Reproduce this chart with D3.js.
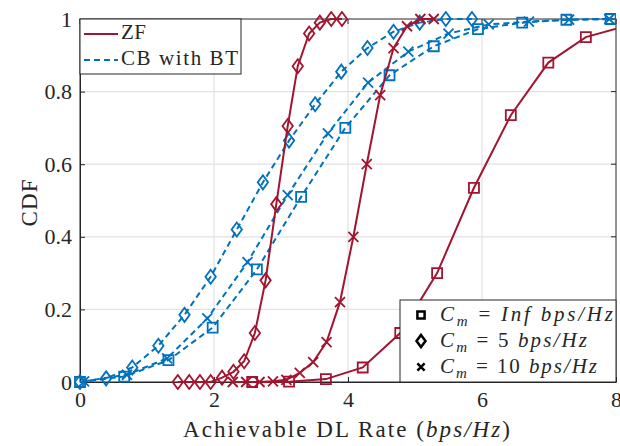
<!DOCTYPE html>
<html><head><meta charset="utf-8">
<script src="https://cdn.jsdelivr.net/npm/d3@7"></script>
<style>body{margin:0;background:#fff}svg{display:block}text{font-family:"Liberation Serif","DejaVu Serif",serif;fill:#262626}</style>
</head><body><svg id="c" width="620" height="446"></svg>
<script>
const xTicks=[0,2,4,6,8];
const yTicks=[0,0.2,0.4,0.6,0.8,1];
const yTickLabels=["0","0.2","0.4","0.6","0.8","1"];
// ZF (red, solid)
const zfInfX=[2.57,3.12,3.67,4.22,4.78,5.33,5.88,6.43,6.99,7.55,8.1];
const zfInfY=[0,0.001,0.008,0.04,0.135,0.30,0.535,0.735,0.88,0.95,0.978];
const zf5X=[1.46,1.63,1.79,1.95,2.12,2.29,2.45,2.61,2.77,2.93,3.1,3.25,3.42,3.58,3.75,3.91];
const zf5Y=[0,0,0,0,0.012,0.028,0.057,0.135,0.28,0.49,0.705,0.87,0.96,0.99,1,1];
const zf10X=[2.28,2.48,2.68,2.88,3.08,3.28,3.48,3.68,3.88,4.08,4.28,4.48,4.68,4.88,5.08,5.28];
const zf10Y=[0,0,0,0.002,0.006,0.025,0.055,0.11,0.22,0.40,0.60,0.79,0.92,0.98,1,1];
// CB with BT (blue, dashed)
const cbInfX=[0,0.66,1.32,1.98,2.64,3.3,3.96,4.62,5.28,5.94,6.6,7.26,7.92];
const cbInfY=[0,0.015,0.06,0.15,0.31,0.51,0.70,0.845,0.925,0.972,0.99,0.998,1];
const cb5X=[0,0.39,0.78,1.17,1.56,1.95,2.34,2.73,3.12,3.51,3.9,4.29,4.68,5.07,5.46,5.85];
const cb5Y=[0,0.01,0.04,0.10,0.185,0.29,0.42,0.55,0.665,0.765,0.855,0.92,0.965,0.99,1,1];
const cb10X=[0.06,0.7,1.3,1.9,2.5,3.1,3.7,4.3,4.9,5.5,6.1,6.7,7.3,7.9];
const cb10Y=[0.002,0.02,0.065,0.175,0.33,0.515,0.685,0.825,0.91,0.96,0.985,0.993,0.998,1];
const legend1Labels=["ZF","CB with BT"];
const legend2Values=["Inf","5","10"];

const RED="#A2142F", BLUE="#0072BD";
const FONT='"Liberation Serif","DejaVu Serif",serif';
const svg=d3.select("#c");
const L=80,R=616,T=19,B=382;
const x=d3.scaleLinear().domain([0,8]).range([L,R]);
const y=d3.scaleLinear().domain([0,1]).range([B,T]);

// grid
svg.append("g").selectAll("line").data(xTicks.slice(1,-1)).join("line")
 .attr("x1",d=>x(d)).attr("x2",d=>x(d)).attr("y1",T).attr("y2",B)
 .attr("stroke","#e2e2e2").attr("stroke-width",1.2);
svg.append("g").selectAll("line").data(yTicks.slice(1,-1)).join("line")
 .attr("y1",d=>y(d)).attr("y2",d=>y(d)).attr("x1",L).attr("x2",R)
 .attr("stroke","#e2e2e2").attr("stroke-width",1.2);

// axes
const xa=svg.append("g").attr("transform",`translate(0,${B})`)
 .call(d3.axisBottom(x).tickValues(xTicks).tickSizeInner(-5).tickSizeOuter(0).tickPadding(9));
const ya=svg.append("g").attr("transform",`translate(${L},0)`)
 .call(d3.axisLeft(y).tickValues(yTicks).tickFormat((d,i)=>yTickLabels[i]).tickSizeInner(-5).tickSizeOuter(0).tickPadding(8));
[xa,ya].forEach(a=>{a.selectAll("path").attr("stroke","#262626").attr("stroke-width",1);
 a.selectAll("line").attr("stroke","#262626");
 a.selectAll("text").style("font-family",FONT).style("font-size","22px").attr("fill","#262626");});
// right ticks & top ticks
svg.append("g").selectAll("line").data(yTicks).join("line").attr("x1",R).attr("x2",R-5).attr("y1",d=>y(d)).attr("y2",d=>y(d)).attr("stroke","#262626");
svg.append("g").selectAll("line").data(xTicks).join("line").attr("y1",T).attr("y2",T+5).attr("x1",d=>x(d)).attr("x2",d=>x(d)).attr("stroke","#262626");
svg.append("rect").attr("x",L).attr("y",T).attr("width",R-L).attr("height",B-T).attr("fill","none").attr("stroke","#262626").attr("stroke-width",1);

// clip
svg.append("clipPath").attr("id","cp").append("rect").attr("x",L-8).attr("y",T-8).attr("width",R-L+8).attr("height",B-T+16);
const plot=svg.append("g").attr("clip-path","url(#cp)");

const line=d3.line().x(d=>x(d[0])).y(d=>y(d[1]));
const mk={
 sq:(s)=>`M${-s},${-s}H${s}V${s}H${-s}Z`,
 di:(s)=>`M0,${-s*1.35}L${s},0L0,${s*1.35}L${-s},0Z`,
 x:(s)=>`M${-s},${-s}L${s},${s}M${-s},${s}L${s},${-s}`
};
const series=[
 {xs:cbInfX,ys:cbInfY,c:BLUE,dash:"6,4",m:"sq",s:5},
 {xs:cb5X,ys:cb5Y,c:BLUE,dash:"6,4",m:"di",s:5.2},
 {xs:cb10X,ys:cb10Y,c:BLUE,dash:"6,4",m:"x",s:5},
 {xs:zfInfX,ys:zfInfY,c:RED,dash:null,m:"sq",s:5},
 {xs:zf5X,ys:zf5Y,c:RED,dash:null,m:"di",s:5.2},
 {xs:zf10X,ys:zf10Y,c:RED,dash:null,m:"x",s:5}
];
series.forEach(S=>{
 const pts=S.xs.map((v,i)=>[v,S.ys[i]]);
 plot.append("path").datum(pts).attr("d",line).attr("fill","none").attr("stroke",S.c)
  .attr("stroke-width",2).attr("stroke-dasharray",S.dash);
 plot.append("g").selectAll("path").data(pts).join("path")
  .attr("transform",d=>`translate(${x(d[0])},${y(d[1])})`)
  .attr("d",mk[S.m](S.s)).attr("fill","none").attr("stroke",S.c).attr("stroke-width",1.8);
});

// labels
svg.append("text").attr("x",346.5).attr("y",437).attr("text-anchor","middle").style("font-size","23px")
 .attr("textLength",327).attr("lengthAdjust","spacing")
 .call(t=>{t.append("tspan").text("Achievable DL Rate (");t.append("tspan").attr("font-style","italic").text("bps/Hz");t.append("tspan").text(")");});
svg.append("text").attr("transform","translate(37,203) rotate(-90)").attr("text-anchor","middle").style("font-size","23px")
 .attr("textLength",47).attr("lengthAdjust","spacing").text("CDF");

// legend 1
const lg1=svg.append("g");
lg1.append("rect").attr("x",L).attr("y",T).attr("width",161).attr("height",55).attr("fill","#fff").attr("stroke","#262626");
const lg1Len=[25,117];
legend1Labels.forEach((lab,i)=>{
 const yy=34+i*26;
 lg1.append("line").attr("x1",84).attr("x2",118).attr("y1",yy).attr("y2",yy).attr("stroke",i?BLUE:RED).attr("stroke-width",2).attr("stroke-dasharray",i?"6,4":null);
 lg1.append("text").attr("x",121).attr("y",yy+5).style("font-size","21px").attr("textLength",lg1Len[i]).attr("lengthAdjust","spacing").text(lab);
});
// legend 2
const lg2=svg.append("g");
lg2.append("rect").attr("x",400).attr("y",300).attr("width",R-400).attr("height",B-300).attr("fill","#fff").attr("stroke","#262626");
const lg2M=["sq","di","x"], lg2Len=[173,147,157];
legend2Values.forEach((v,i)=>{
 const yy=315+i*26;
 lg2.append("path").attr("transform",`translate(421,${yy})`).attr("d",mk[lg2M[i]](lg2M[i]==="di"?4.5:3.6)).attr("fill","none").attr("stroke","#000").attr("stroke-width",2.5);
 const t=lg2.append("text").attr("x",440).attr("y",yy+6).style("font-size","21px").attr("textLength",lg2Len[i]).attr("lengthAdjust","spacing");
 t.append("tspan").attr("font-style","italic").text("C");
 t.append("tspan").attr("font-style","italic").attr("font-size","15px").attr("dy",5).text("m");
 t.append("tspan").attr("dy",-5).text(" = ");
 t.append("tspan").attr("font-style",v==="Inf"?"italic":"normal").text(v+" ");
 t.append("tspan").attr("font-style","italic").text("bps/Hz");
});
</script></body></html>
